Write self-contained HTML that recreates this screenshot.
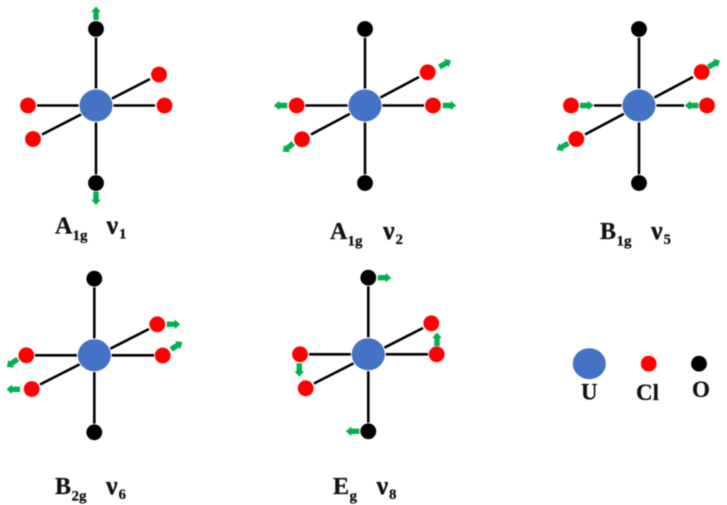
<!DOCTYPE html>
<html><head><meta charset="utf-8"><style>
html,body{margin:0;padding:0;background:#fff;width:727px;height:505px;overflow:hidden}
svg{display:block}
text{font-family:"Liberation Serif",serif;font-weight:bold;fill:#111;stroke:#111;stroke-width:.25}
.m{font-size:24px}.n{font-size:26px}.s{font-size:15px}.l{font-size:23px}
.b{stroke:#000;stroke-width:2.6;fill:none}
.u{fill:#4472c4;stroke:#fff;stroke-width:1}
.c{fill:#f00;stroke:#fff;stroke-width:.8}
.o{fill:#000;stroke:#fff;stroke-width:.8}
</style></head><body>
<svg width="727" height="505" viewBox="0 0 727 505" xmlns="http://www.w3.org/2000/svg">
<defs><path id="a" d="M0-2.700H8V-4.800L13.500 0 8 4.800V2.700H0Z" fill="#00b050"/></defs>
<g style="filter:blur(.4px)">
<!-- G1 -->
<path class="b" d="M96 36V175M37 105.500H155M42 134.500L150 79"/>
<ellipse class="u" cx="96" cy="105.500" rx="17" ry="16.500"/>
<circle class="o" cx="96" cy="29" r="8.300"/><circle class="o" cx="96" cy="183" r="8.300"/>
<circle class="c" cx="28" cy="105.500" r="8.300"/><circle class="c" cx="164.500" cy="105.500" r="8.300"/><circle class="c" cx="159" cy="74.500" r="8.300"/><circle class="c" cx="33" cy="139" r="8.300"/>
<use href="#a" transform="translate(96 20) rotate(-90)"/><use href="#a" transform="translate(96 191.500) rotate(90)"/>
<!-- G2 -->
<path class="b" d="M365 36V175M305 105.500H424M311 134.500L419 77"/>
<ellipse class="u" cx="365" cy="105.500" rx="17" ry="16.500"/>
<circle class="o" cx="365" cy="29" r="8.300"/><circle class="o" cx="365" cy="183" r="8.300"/>
<circle class="c" cx="296.700" cy="105.500" r="8.300"/><circle class="c" cx="433" cy="105.500" r="8.300"/><circle class="c" cx="427.700" cy="72.300" r="8.300"/><circle class="c" cx="302" cy="139.300" r="8.300"/>
<use href="#a" transform="translate(287.300 105.500) rotate(180)"/><use href="#a" transform="translate(442.700 105.500)"/><use href="#a" transform="translate(439.300 67) rotate(-29)"/><use href="#a" transform="translate(293.300 143.300) rotate(141)"/>
<!-- G3 -->
<path class="b" d="M639 36V175M594 105.500H684M585 134.500L693 77"/>
<ellipse class="u" cx="639" cy="105.500" rx="17" ry="16.500"/>
<circle class="o" cx="639" cy="29" r="8.300"/><circle class="o" cx="639" cy="183" r="8.300"/>
<circle class="c" cx="571" cy="105.500" r="8.300"/><circle class="c" cx="707" cy="105.500" r="8.300"/><circle class="c" cx="701.700" cy="72" r="8.300"/><circle class="c" cx="576.300" cy="139" r="8.300"/>
<use href="#a" transform="translate(580 105.500)"/><use href="#a" transform="translate(698.300 105.500) rotate(180)"/><use href="#a" transform="translate(708.300 67) rotate(-29)"/><use href="#a" transform="translate(568.300 143.300) rotate(150)"/>
<!-- G4 -->
<path class="b" d="M94.300 286V424M35 355.300H154M40 384.500L149 329"/>
<ellipse class="u" cx="94.300" cy="355.300" rx="17" ry="16.500"/>
<circle class="o" cx="94.300" cy="278.700" r="8.300"/><circle class="o" cx="94.300" cy="432.300" r="8.300"/>
<circle class="c" cx="26.300" cy="355.300" r="8.300"/><circle class="c" cx="162.700" cy="355.500" r="8.300"/><circle class="c" cx="157.300" cy="324.300" r="8.300"/><circle class="c" cx="31.700" cy="389" r="8.300"/>
<use href="#a" transform="translate(17.700 359) rotate(144)"/><use href="#a" transform="translate(20 389.300) rotate(180)"/><use href="#a" transform="translate(166.700 324.300)"/><use href="#a" transform="translate(171 349.300) rotate(-32)"/>
<!-- G5 -->
<path class="b" d="M368.300 285V423M309 354.300H428M314 383.500L423 328"/>
<ellipse class="u" cx="368.300" cy="354.300" rx="17" ry="16.500"/>
<circle class="o" cx="368.300" cy="277.700" r="8.300"/><circle class="o" cx="368.300" cy="431.300" r="8.300"/>
<circle class="c" cx="300" cy="354.300" r="8.300"/><circle class="c" cx="436.700" cy="354.300" r="8.300"/><circle class="c" cx="431.300" cy="323.300" r="8.300"/><circle class="c" cx="305.700" cy="388.300" r="8.300"/>
<use href="#a" transform="translate(377.700 277.700)"/><use href="#a" transform="translate(359.300 431.300) rotate(180)"/><use href="#a" transform="translate(437 346) rotate(-90)"/><use href="#a" transform="translate(299.300 363.300) rotate(90)"/>
<!-- Legend -->
<ellipse class="u" cx="589.300" cy="363.700" rx="17" ry="16"/>
<circle class="c" cx="648.700" cy="363.700" r="8.300"/><circle class="o" cx="699" cy="363.700" r="8.300"/>
<!-- Labels -->
<text class="m" x="55" y="233.500">A</text><text class="s" x="72.500" y="240">1g</text><text class="n" x="106.500" y="233.500">ν</text><text class="s" x="119" y="238.500">1</text>
<text class="m" x="330" y="239">A</text><text class="s" x="347.500" y="245.500">1g</text><text class="n" x="383" y="239">ν</text><text class="s" x="395.500" y="244">2</text>
<text class="m" x="600" y="239">B</text><text class="s" x="616.500" y="245.500">1g</text><text class="n" x="651" y="239">ν</text><text class="s" x="663.500" y="244">5</text>
<text class="m" x="55" y="494">B</text><text class="s" x="71.500" y="500.500">2g</text><text class="n" x="106" y="494">ν</text><text class="s" x="118.500" y="499">6</text>
<text class="m" x="333" y="494">E</text><text class="s" x="349.500" y="500.500">g</text><text class="n" x="376.500" y="494">ν</text><text class="s" x="389" y="499">8</text>
<text class="l" x="589.300" y="399.300" text-anchor="middle">U</text><text class="l" x="636" y="400">Cl</text><text class="l" x="692" y="397">O</text>
</g>
</svg>
</body></html>
